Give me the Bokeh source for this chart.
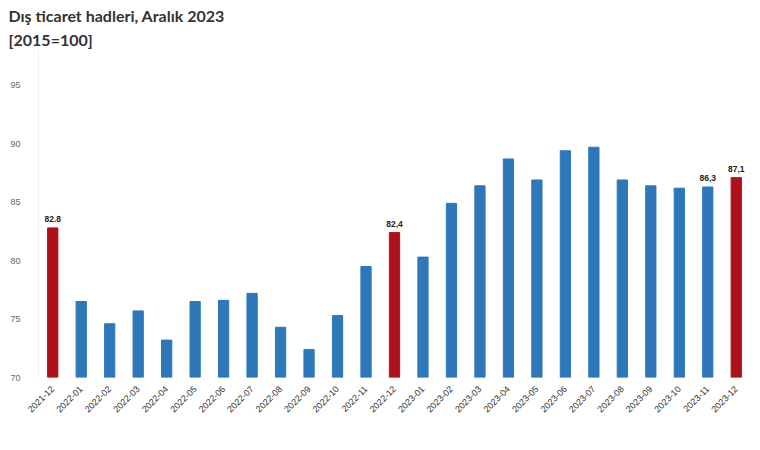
import math
from bokeh.plotting import figure
from bokeh.models import ColumnDataSource, FixedTicker, Title, Range1d
from bokeh.core.properties import value
from bokeh.embed import file_html
from bokeh.resources import INLINE

months = ["2021-12", "2022-01", "2022-02", "2022-03", "2022-04", "2022-05", "2022-06",
          "2022-07", "2022-08", "2022-09", "2022-10", "2022-11", "2022-12", "2023-01",
          "2023-02", "2023-03", "2023-04", "2023-05", "2023-06", "2023-07", "2023-08",
          "2023-09", "2023-10", "2023-11", "2023-12"]
values = [82.8, 76.5, 74.6, 75.7, 73.2, 76.5, 76.6, 77.2, 74.3, 72.4, 75.3, 79.5, 82.4, 80.3,
          84.9, 86.4, 88.7, 86.9, 89.4, 89.7, 86.9, 86.4, 86.2, 86.3, 87.1]
highlight = ["2021-12", "2022-12", "2023-12"]
label_text = {"2021-12": "82.8", "2022-12": "82,4", "2023-11": "86,3", "2023-12": "87,1"}
y_ticks = [70, 75, 80, 85, 90, 95]

BLUE = "#2E78BA"
RED = "#AD1119"

colors = [RED if m in highlight else BLUE for m in months]
src = ColumnDataSource(dict(x=months, top=values, color=colors))

lab_x = [m for m in months if m in label_text]
lab_y = [values[months.index(m)] for m in lab_x]
lab_t = [label_text[m] for m in lab_x]
lsrc = ColumnDataSource(dict(x=lab_x, y=lab_y, t=lab_t))

p = figure(x_range=months, width=750, height=434, output_backend="svg",
           toolbar_location=None, min_border_left=38, min_border_right=0,
           min_border_bottom=57, min_border_top=0)
p.y_range = Range1d(70, 98.15)

p.vbar(x="x", top="top", bottom=70, width=0.36, color="color", source=src)
p.text(x="x", y="y", text="t", source=lsrc, text_align="center", text_baseline="bottom",
       y_offset=-6, text_font_size="8.5px", text_font_style="bold", text_color="#222222",
       text_font=value("Liberation Sans"))

p.add_layout(Title(text="[2015=100]", text_font_size="16px", text_font_style="bold",
                   text_color="#333333", align="left", offset=-30,
                   text_font="Lato", standoff=0), "above")
p.add_layout(Title(text="Dış ticaret hadleri, Aralık 2023", text_font_size="16px",
                   text_font_style="bold", text_color="#333333", align="left", offset=-30,
                   text_font="Lato", standoff=6), "above")

p.xgrid.visible = False
p.ygrid.visible = False
p.outline_line_color = None

p.yaxis.ticker = FixedTicker(ticks=y_ticks)
p.yaxis.major_tick_line_color = None
p.yaxis.minor_tick_line_color = None
p.yaxis.axis_line_color = "#eeeeee"
p.yaxis.major_label_text_font_size = "9px"
p.yaxis.major_label_text_color = "#666666"
p.yaxis.major_label_standoff = 12
p.yaxis.major_label_text_font = "Liberation Sans"

p.xaxis.major_label_orientation = math.pi / 4
p.xaxis.major_tick_line_color = None
p.xaxis.axis_line_color = None
p.xaxis.major_label_text_font_size = "9px"
p.xaxis.major_label_text_color = "#333333"
p.xaxis.major_label_text_font = "Liberation Sans"
p.xaxis.major_label_standoff = 4
p.x_range.range_padding = 0

open("out.html", "w").write(file_html(p, INLINE))
